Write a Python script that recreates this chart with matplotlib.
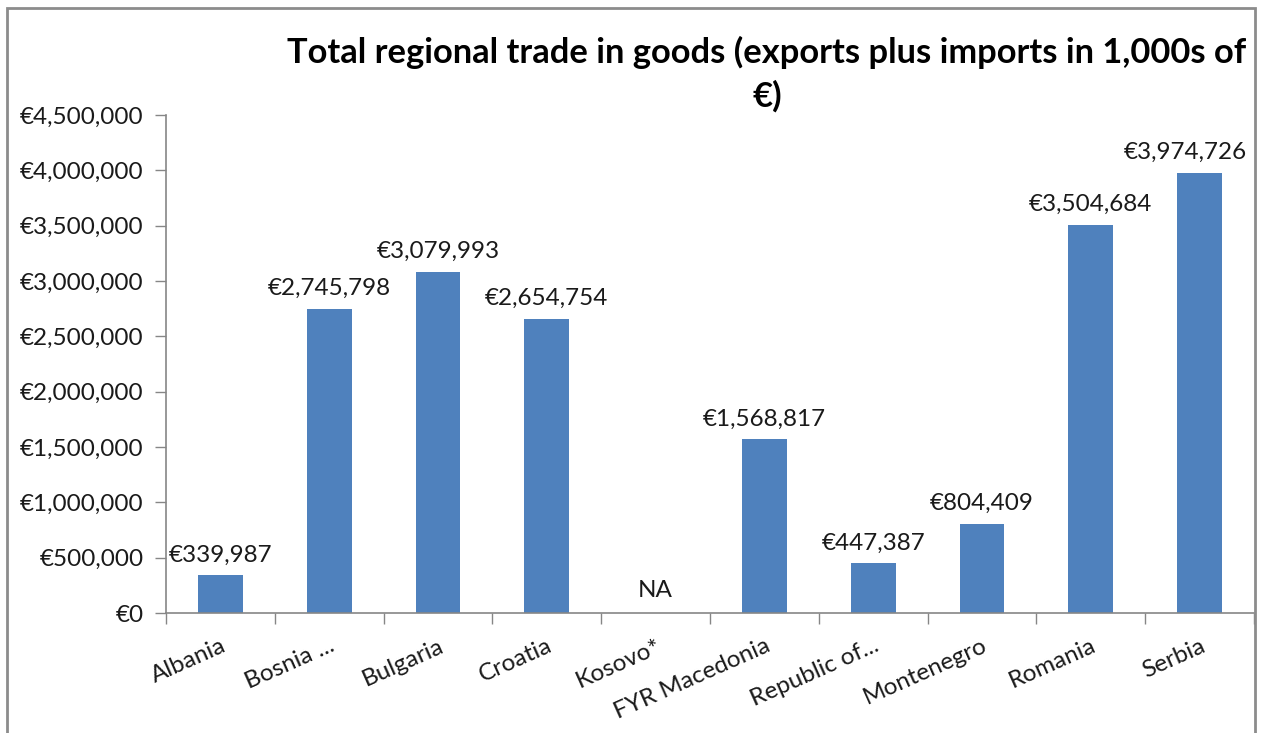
import numpy as np
import matplotlib.pyplot as plt
from matplotlib.patches import Rectangle
from matplotlib.ticker import FuncFormatter, MultipleLocator

plt.rcParams['font.family'] = ['Lato', 'DejaVu Sans']

# data (1,000s of euro); Kosovo has no value
countries = ['Albania', 'Bosnia ...', 'Bulgaria', 'Croatia', 'Kosovo*', 'FYR Macedonia',
             'Republic of...', 'Montenegro', 'Romania', 'Serbia']
trade = [339987, 2745798, 3079993, 2654754, np.nan, 1568817, 447387, 804409, 3504684, 3974726]

bar_color = '#4F81BD'
axis_color = '#868686'

fig = plt.figure(figsize=(12.69, 7.33), dpi=100)
ax = fig.add_axes([166 / 1269, 1 - 613 / 733, 1088 / 1269, 498 / 733])

x = np.arange(len(countries))
vals = np.array(trade, dtype=float)
ax.bar(x, np.nan_to_num(vals), width=0.41, color=bar_color)

# value labels above the bars
labels = []
for xi, v in zip(x, vals):
    if np.isnan(v):
        t = ax.annotate('NA', (xi, 0), xytext=(0, 12), textcoords='offset pixels',
                        ha='center', va='bottom', fontsize=17.5, color='#1a1a1a')
    else:
        t = ax.annotate(f'€{v:,.0f}', (xi, v), xytext=(0, 10), textcoords='offset pixels',
                        ha='center', va='bottom', fontsize=17.5, color='#1a1a1a')
    labels.append(t)

ax.set_xlim(-0.5, len(countries) - 0.5)
ax.set_ylim(0, 4500000)
ax.yaxis.set_major_locator(MultipleLocator(500000))
ax.yaxis.set_major_formatter(FuncFormatter(lambda v, p: f'€{v:,.0f}'))

ax.set_xticks(x)
ax.set_xticklabels(countries, rotation=24, ha='right', rotation_mode='anchor')
ax.set_xticks(np.arange(-0.5, len(countries)), minor=True)
ax.tick_params(axis='x', which='major', length=0, pad=16, labelsize=17.5, colors='#1a1a1a')
ax.tick_params(axis='x', which='minor', length=8, color=axis_color, width=1)
ax.tick_params(axis='y', length=8, color=axis_color, width=1, labelsize=17.5,
               colors='#1a1a1a', pad=8)

for s in ['top', 'right']:
    ax.spines[s].set_visible(False)
for s in ['left', 'bottom']:
    ax.spines[s].set_color(axis_color)
    ax.spines[s].set_linewidth(1.2)

fig.text(767 / 1269, 1 - 74 / 733, 'Total regional trade in goods (exports plus imports in 1,000s of\n€)',
         ha='center', va='center', fontsize=24.8, fontweight='bold', linespacing=1.4)

# outer frame of the chart area
frame_right = 1255
fig.patches.append(Rectangle((7 / 1269, -0.05), (frame_right - 7) / 1269, 1.05 - 8 / 733,
                             transform=fig.transFigure, fill=False,
                             edgecolor='#8c8c8c', linewidth=2))

# like Excel, push labels that would cross the frame back inside it
fig.canvas.draw()
renderer = fig.canvas.get_renderer()
for t in labels:
    bb = t.get_window_extent(renderer)
    over = bb.x1 - (frame_right - 8)
    if over > 0:
        dx, dy = t.xyann
        t.xyann = (dx - over, dy)

fig.savefig('out.png', dpi=100)
